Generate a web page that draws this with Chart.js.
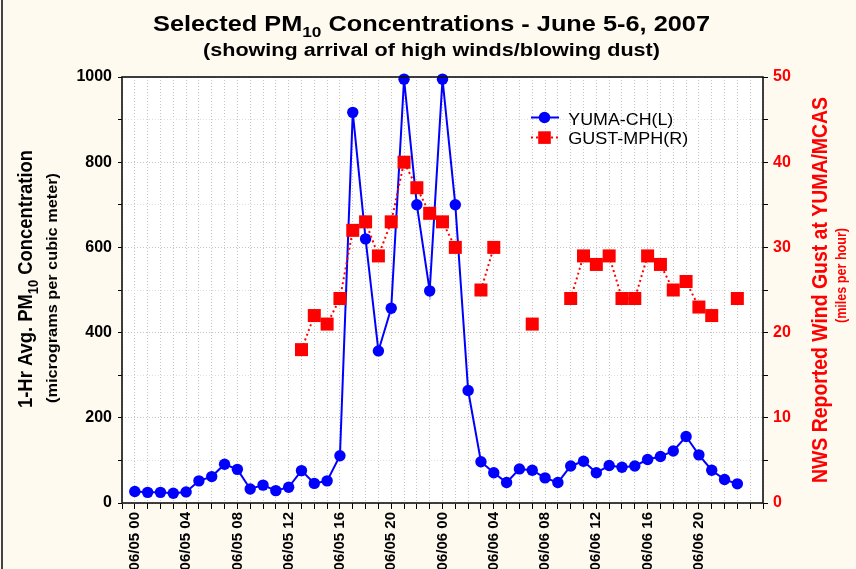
<!DOCTYPE html>
<html>
<head>
<meta charset="utf-8">
<title>Selected PM10 Concentrations - June 5-6, 2007</title>
<script src="https://cdn.jsdelivr.net/npm/chart.js@4.4.1/dist/chart.umd.min.js"></script>
<style>
    html, body { margin: 0; padding: 0; background: #fffaf0; }
    #pmChart { display: block; }
</style>
</head>
<body>
<canvas id="pmChart" width="856" height="569"></canvas>
<script>
//********************************************************************************
///Data (hourly, 06/05 00 .. 06/06 23)
//********************************************************************************
const hourLabels = [
    '06/05 00', '06/05 01', '06/05 02', '06/05 03', '06/05 04', '06/05 05',
    '06/05 06', '06/05 07', '06/05 08', '06/05 09', '06/05 10', '06/05 11',
    '06/05 12', '06/05 13', '06/05 14', '06/05 15', '06/05 16', '06/05 17',
    '06/05 18', '06/05 19', '06/05 20', '06/05 21', '06/05 22', '06/05 23',
    '06/06 00', '06/06 01', '06/06 02', '06/06 03', '06/06 04', '06/06 05',
    '06/06 06', '06/06 07', '06/06 08', '06/06 09', '06/06 10', '06/06 11',
    '06/06 12', '06/06 13', '06/06 14', '06/06 15', '06/06 16', '06/06 17',
    '06/06 18', '06/06 19', '06/06 20', '06/06 21', '06/06 22', '06/06 23'
];

// YUMA-CH PM10, micrograms per cubic meter (left axis)
const pm10Values = [
    27, 25, 25, 23, 26, 52, 62, 91, 79, 33, 42, 29,
    37, 76, 46, 52, 111, 917, 620, 357, 457, 995, 700, 498,
    995, 700, 264, 97, 71, 48, 80, 77, 59, 48, 87, 98,
    71, 88, 84, 87, 102, 109, 122, 156, 113, 77, 55, 45
];

// NWS gusts at YUMA/MCAS, mph (right axis), null = no report
const gustValues = [
    null, null, null, null, null, null, null, null, null, null, null, null,
    null, 18, 22, 21, 24, 32, 33, 29, 33, 40, 37, 34,
    33, 30, null, 25, 30, null, null, 21, null, null, 24, 29,
    28, 29, 24, 24, 29, 28, 25, 26, 23, 22, null, 24
];

const pmTickValues = [0, 200, 400, 600, 800, 1000];
const gustTickValues = [0, 10, 20, 30, 40, 50];
const labelHours = [0, 4, 8, 12, 16, 20, 24, 28, 32, 36, 40, 44];

const fontFamily = "'Liberation Sans', Arial, sans-serif";
const pageColor = '#fffaf0';
const pmColor = '#0000ff';
const gustColor = '#ff0000';

Chart.defaults.font.family = fontFamily;

//********************************************************************************
///Text helper: centred text, squeezed to the width seen in the picture
//********************************************************************************
function drawLabel(ctx, parts, cx, cy, width, size, color, weight, angle) {
    ctx.save();
    ctx.translate(cx, cy);
    ctx.rotate(angle || 0);
    ctx.fillStyle = color;
    ctx.textAlign = 'left';
    ctx.textBaseline = 'alphabetic';
    const subSize = Math.round(size * 0.68);
    let natural = 0;
    parts.forEach(p => {
        ctx.font = `${weight} ${p[1] ? subSize : size}px ${fontFamily}`;
        natural += ctx.measureText(p[0]).width;
    });
    ctx.scale(width / natural, 1);
    let x = -natural / 2;
    parts.forEach(p => {
        ctx.font = `${weight} ${p[1] ? subSize : size}px ${fontFamily}`;
        ctx.fillText(p[0], x, p[1] ? size * 0.28 : 0);
        x += ctx.measureText(p[0]).width;
    });
    ctx.restore();
}

//********************************************************************************
///Background, frame, titles and legend
//********************************************************************************
const chartDecor = {
    id: 'chartDecor',
    beforeDraw(chart) {
        const { ctx, chartArea: a } = chart;
        ctx.save();
        ctx.fillStyle = pageColor;
        ctx.fillRect(0, 0, chart.width, chart.height);
        ctx.fillStyle = '#ffffff';
        ctx.fillRect(a.left, a.top, a.right - a.left, a.bottom - a.top);
        ctx.restore();
    },
    afterDraw(chart) {
        const { ctx, chartArea: a } = chart;
        const up = -Math.PI / 2;

        ctx.save();
        // plot frame
        ctx.strokeStyle = '#111111';
        ctx.lineWidth = 1.6;
        ctx.strokeRect(a.left, a.top, a.right - a.left, a.bottom - a.top);
        // left page edge
        ctx.strokeStyle = '#444444';
        ctx.lineWidth = 2;
        ctx.beginPath();
        ctx.moveTo(2, 0);
        ctx.lineTo(2, chart.height);
        ctx.stroke();
        ctx.restore();

        // titles
        drawLabel(ctx, [['Selected PM', false], ['10', true], [' Concentrations - June 5-6, 2007', false]],
            431.5, 31, 557, 22, '#000000', 'bold');
        drawLabel(ctx, [['(showing arrival of high winds/blowing dust)', false]],
            431.5, 55.5, 457, 18, '#000000', 'bold');

        // axis titles
        drawLabel(ctx, [['1-Hr Avg. PM', false], ['10', true], [' Concentration', false]],
            32, 279, 258, 20, '#000000', 'bold', up);
        drawLabel(ctx, [['(micrograms per cubic meter)', false]],
            57, 288, 230, 14, '#000000', 'bold', up);
        drawLabel(ctx, [['NWS Reported Wind Gust at YUMA/MCAS', false]],
            826.5, 290, 386, 22, gustColor, 'bold', up);
        drawLabel(ctx, [['(miles per hour)', false]],
            846, 275.5, 95, 14, gustColor, 'bold', up);

        // legend
        ctx.save();
        ctx.strokeStyle = pmColor;
        ctx.lineWidth = 2;
        ctx.beginPath();
        ctx.moveTo(531, 117.5);
        ctx.lineTo(559, 117.5);
        ctx.stroke();
        ctx.fillStyle = pmColor;
        ctx.beginPath();
        ctx.arc(544.5, 117.5, 5.8, 0, Math.PI * 2);
        ctx.fill();

        ctx.strokeStyle = gustColor;
        ctx.setLineDash([2, 3]);
        ctx.beginPath();
        ctx.moveTo(531, 137.5);
        ctx.lineTo(559, 137.5);
        ctx.stroke();
        ctx.setLineDash([]);
        ctx.fillStyle = gustColor;
        ctx.fillRect(538.2, 131.3, 12.6, 12.6);
        ctx.restore();

        drawLabel(ctx, [['YUMA-CH(L)', false]], 568.3 + 105 / 2, 125, 105, 17, '#000000', 'normal');
        drawLabel(ctx, [['GUST-MPH(R)', false]], 568.3 + 120 / 2, 143.5, 120, 17, '#000000', 'normal');
    }
};

//********************************************************************************
///Chart
//********************************************************************************
const chart = new Chart(document.getElementById('pmChart'), {
    type: 'line',
    data: {
        datasets: [
            {
                label: 'YUMA-CH(L)',
                data: pm10Values.map((v, i) => ({ x: i, y: v })),
                yAxisID: 'yLeft',
                borderColor: pmColor,
                backgroundColor: pmColor,
                borderWidth: 2,
                pointStyle: 'circle',
                pointRadius: 5.7,
                pointBorderWidth: 0,
                tension: 0,
                clip: false,
                order: 1
            },
            {
                label: 'GUST-MPH(R)',
                data: gustValues.map((v, i) => ({ x: i, y: v })),
                yAxisID: 'yRight',
                borderColor: gustColor,
                backgroundColor: gustColor,
                borderWidth: 2,
                borderDash: [2, 3],
                pointStyle: 'rect',
                pointRadius: 9.2,
                pointBorderWidth: 0,
                spanGaps: false,
                tension: 0,
                clip: false,
                order: 0
            }
        ]
    },
    options: {
        responsive: false,
        animation: false,
        devicePixelRatio: 1,
        layout: { padding: { top: 77, left: 0, right: 0, bottom: 0 } },
        plugins: {
            legend: { display: false },
            tooltip: { enabled: false }
        },
        scales: {
            x: {
                type: 'linear',
                min: -1,
                max: 49,
                afterFit: scale => { scale.height = 66; },
                ticks: {
                    stepSize: 1,
                    autoSkip: false,
                    minRotation: 90,
                    maxRotation: 90,
                    padding: 3,
                    color: '#000000',
                    font: { size: 15, weight: 'bold' },
                    callback: value => labelHours.includes(value) ? hourLabels[value] : ''
                },
                grid: {
                    color: '#c4c4c4',
                    lineWidth: 1,
                    tickColor: '#000000',
                    tickLength: 6
                },
                border: { display: false, dash: [1, 2] }
            },
            yLeft: {
                type: 'linear',
                position: 'left',
                min: 0,
                max: 1000,
                afterFit: scale => { scale.width = 122; },
                ticks: {
                    stepSize: 100,
                    padding: 6,
                    color: '#000000',
                    font: { size: 16, weight: 'bold' },
                    callback: value => pmTickValues.includes(value) ? value : ''
                },
                grid: {
                    color: ctx => (ctx.tick && ctx.tick.value % 200 === 0) ? '#c4c4c4' : '#dedede',
                    tickColor: '#000000',
                    tickLength: 4
                },
                border: { display: false, dash: [1, 2] }
            },
            yRight: {
                type: 'linear',
                position: 'right',
                min: 0,
                max: 50,
                afterFit: scale => { scale.width = 93; },
                ticks: {
                    stepSize: 5,
                    padding: 5,
                    color: gustColor,
                    font: { size: 16, weight: 'bold' },
                    callback: value => gustTickValues.includes(value) ? value : ''
                },
                grid: {
                    drawOnChartArea: false,
                    tickColor: '#000000',
                    tickLength: 5
                },
                border: { display: false }
            }
        }
    },
    plugins: [chartDecor]
});
</script>
</body>
</html>
